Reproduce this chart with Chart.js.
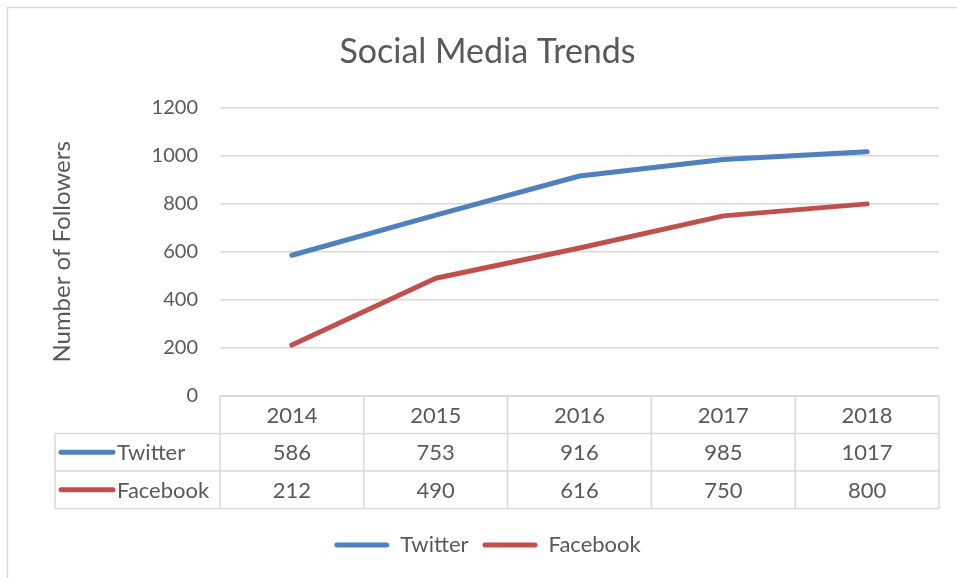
<!DOCTYPE html>
<html>
<head>
<meta charset="utf-8">
<style>
  html, body { margin: 0; padding: 0; background: #fff; }
  #wrap { position: relative; width: 957px; height: 578px; }
</style>
<script src="https://cdn.jsdelivr.net/npm/chart.js@4/dist/chart.umd.min.js"></script>
</head>
<body>
<div id="wrap"><canvas id="chart"></canvas></div>
<script>
// values
var years = ['2014', '2015', '2016', '2017', '2018'];
var twitter = [586, 753, 916, 985, 1017];
var facebook = [212, 490, 616, 750, 800];
var seriesNames = ['Twitter', 'Facebook'];
var seriesColors = ['#4F81BD', '#C0504D'];

var FONT = 'Lato, "Open Sans", sans-serif';
var TEXT = '#595959';
var GRID = '#d9d9d9';

// outer frame of the chart object
var framePlugin = {
    id: 'frame',
    beforeDraw: function(chart) {
        var ctx = chart.ctx;
        ctx.save();
        ctx.strokeStyle = GRID;
        ctx.lineWidth = 1.5;
        ctx.strokeRect(7.5, 7.5, chart.width + 10, chart.height + 10);
        ctx.restore();
    }
};

// data table under the plot, columns taken from the x scale
var tablePlugin = {
    id: 'dataTable',
    afterDraw: function(chart) {
        var ctx = chart.ctx;
        var xs = chart.scales.x;
        var area = chart.chartArea;
        var n = years.length;
        var colW = (area.right - area.left) / n;
        var rowH = 37.5;
        var top = area.bottom;
        var leftEdge = 55;
        var rows = [twitter, facebook];

        ctx.save();
        ctx.strokeStyle = GRID;
        ctx.lineWidth = 1.5;
        ctx.beginPath();
        // horizontal lines
        ctx.moveTo(area.left, top);
        ctx.lineTo(area.right, top);
        for (var r = 1; r <= 3; r++) {
            ctx.moveTo(leftEdge, top + rowH * r);
            ctx.lineTo(area.right, top + rowH * r);
        }
        // vertical lines
        ctx.moveTo(leftEdge, top + rowH);
        ctx.lineTo(leftEdge, top + rowH * 3);
        for (var c = 0; c <= n; c++) {
            var x = area.left + colW * c;
            ctx.moveTo(x, top);
            ctx.lineTo(x, top + rowH * 3);
        }
        ctx.stroke();

        ctx.fillStyle = TEXT;
        ctx.font = '22px ' + FONT;
        ctx.textAlign = 'center';
        ctx.textBaseline = 'middle';
        years.forEach(function(y, i) {
            ctx.fillText(y, xs.getPixelForValue(i), top + rowH / 2 + 1);
        });
        rows.forEach(function(vals, j) {
            var cy = top + rowH * (j + 1.5) + 1;
            vals.forEach(function(v, i) {
                ctx.fillText(String(v), xs.getPixelForValue(i), cy);
            });
            // legend key in the row header
            ctx.strokeStyle = seriesColors[j];
            ctx.lineWidth = 5;
            ctx.lineCap = 'round';
            ctx.beginPath();
            ctx.moveTo(leftEdge + 6, cy - 1);
            ctx.lineTo(leftEdge + 58, cy - 1);
            ctx.stroke();
            ctx.textAlign = 'left';
            ctx.fillText(seriesNames[j], leftEdge + 62, cy);
            ctx.textAlign = 'center';
        });
        ctx.restore();
    }
};

new Chart(document.getElementById('chart'), {
    type: 'line',
    data: {
        labels: years,
        datasets: [{
            label: seriesNames[0],
            data: twitter,
            borderColor: seriesColors[0],
            backgroundColor: seriesColors[0],
            borderWidth: 5,
            pointRadius: 0,
            borderCapStyle: 'round',
            borderJoinStyle: 'round',
            tension: 0
        }, {
            label: seriesNames[1],
            data: facebook,
            borderColor: seriesColors[1],
            backgroundColor: seriesColors[1],
            borderWidth: 5,
            pointRadius: 0,
            borderCapStyle: 'round',
            borderJoinStyle: 'round',
            tension: 0
        }]
    },
    options: {
        responsive: true,
        maintainAspectRatio: false,
        animation: false,
        layout: { padding: { top: 0, left: 36, right: 18, bottom: 12 } },
        plugins: {
            title: {
                display: true,
                text: 'Social Media Trends',
                color: TEXT,
                font: { family: FONT, size: 34, weight: 'normal' },
                padding: { top: 32, bottom: 35 }
            },
            legend: {
                position: 'bottom',
                labels: {
                    color: TEXT,
                    font: { family: FONT, size: 22 },
                    boxWidth: 55,
                    boxHeight: 5,
                    useBorderRadius: true,
                    borderRadius: 2.5,
                    padding: 14,
                    generateLabels: function(chart) {
                        return Chart.defaults.plugins.legend.labels.generateLabels(chart).map(function(l) {
                            l.lineWidth = 0;
                            return l;
                        });
                    }
                }
            },
            tooltip: { enabled: false }
        },
        scales: {
            x: {
                offset: true,
                grid: { display: false },
                border: { display: false },
                ticks: { display: false },
                afterFit: function(s) { s.height = 124; }
            },
            y: {
                min: 0,
                max: 1200,
                ticks: {
                    stepSize: 200,
                    color: TEXT,
                    padding: 22,
                    font: { family: FONT, size: 20 },
                    callback: function(v) { return String(v); }
                },
                grid: { color: GRID, lineWidth: 1.5, drawTicks: false },
                border: { display: false },
                title: {
                    display: true,
                    text: 'Number of Followers',
                    color: TEXT,
                    font: { family: FONT, size: 24 },
                    padding: { top: 12 }
                },
                afterFit: function(s) { s.width = 184; }
            }
        }
    },
    plugins: [framePlugin, tablePlugin]
});
</script>
</body>
</html>
